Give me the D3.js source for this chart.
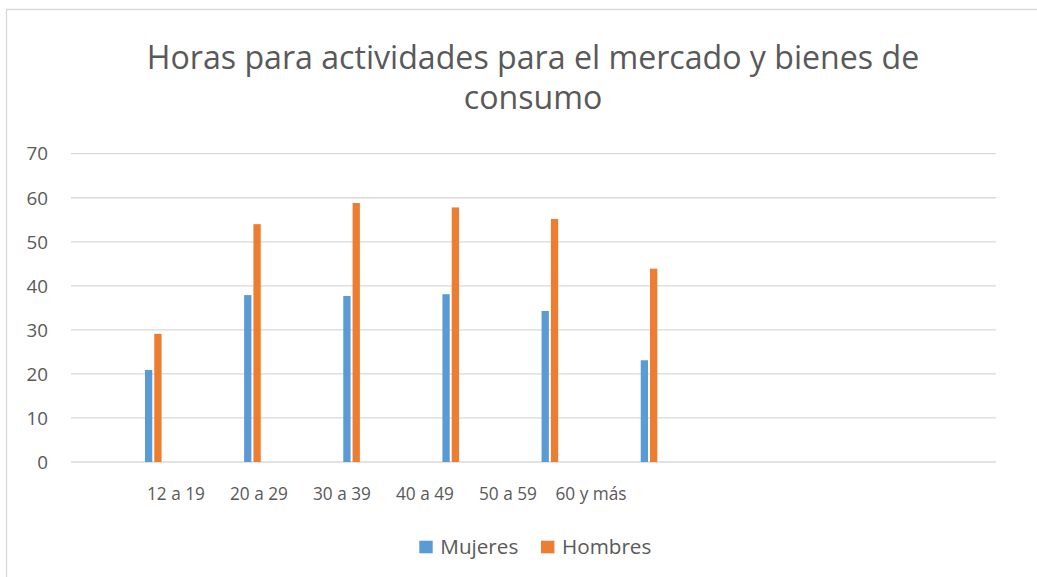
<!DOCTYPE html>
<html>
<head>
<meta charset="utf-8">
<script src="https://cdn.jsdelivr.net/npm/d3@7"></script>
<style>
  html, body { margin: 0; padding: 0; background: #fff; }
  svg { display: block; }
  text { font-family: "Open Sans", Lato, sans-serif; fill: #595959; }
</style>
</head>
<body>
<svg id="chart" width="1037" height="577"></svg>
<script>
const categories = ["12 a 19", "20 a 29", "30 a 39", "40 a 49", "50 a 59", "60 y más"];
const seriesNames = ["Mujeres", "Hombres"];
const mujeres = [20.9, 37.9, 37.7, 38.1, 34.3, 23.1];
const hombres = [29.1, 54.0, 58.8, 57.8, 55.2, 43.9];
const yTicks = [0, 10, 20, 30, 40, 50, 60, 70];
const titleLines = ["Horas para actividades para el mercado y bienes de", "consumo"];

const colors = { "Mujeres": "#5B9BD5", "Hombres": "#ED7D31" };
const values = { "Mujeres": mujeres, "Hombres": hombres };

const svg = d3.select("#chart");

function fitSize(node, target) {
  const el = d3.select(node);
  const fs = parseFloat(el.attr("font-size"));
  const w = node.getComputedTextLength();
  return w > 0 ? fs * target / w : fs;
}

// chart border
svg.append("path")
  .attr("d", "M6.5,577 L6.5,9.5 L1037,9.5")
  .attr("fill", "none").attr("stroke", "#d9d9d9").attr("stroke-width", 1.3);

const plot = { left: 71, right: 996, top: 153.7, bottom: 462 };

const y = d3.scaleLinear().domain([0, 70]).range([plot.bottom, plot.top]);
const x = d3.scaleBand().domain(categories).range([103.7, 698.6]).padding(0);
const xSub = d3.scaleBand().domain(seriesNames).range([0, 16.6]).paddingInner(0.215);
const xLabel = d3.scalePoint().domain(categories).range([176, 591]);

// gridlines
svg.append("g").selectAll("line").data(yTicks).join("line")
  .attr("x1", plot.left).attr("x2", plot.right)
  .attr("y1", d => y(d)).attr("y2", d => y(d))
  .attr("stroke", "#d9d9d9").attr("stroke-width", 1.3);

// y labels
const yl = svg.append("g").selectAll("text").data(yTicks).join("text")
  .attr("x", 48).attr("y", d => y(d)).attr("dy", "0.36em")
  .attr("text-anchor", "end").attr("font-size", 19)
  .text(d => d);
const ySize = fitSize(yl.filter(d => d === 70).node(), 21.5);
yl.attr("font-size", ySize);

// bars
const groups = svg.append("g").selectAll("g").data(seriesNames).join("g")
  .attr("fill", s => colors[s]);
groups.selectAll("rect")
  .data(s => categories.map((c, i) => ({ s, c, v: values[s][i] })))
  .join("rect")
  .attr("x", d => x(d.c) + x.bandwidth() / 2 - 8.3 + xSub(d.s))
  .attr("width", xSub.bandwidth())
  .attr("y", d => y(d.v))
  .attr("height", d => y(0) - y(d.v));

// x labels
const xl = svg.append("g").selectAll("text").data(categories).join("text")
  .attr("x", d => xLabel(d)).attr("y", 500)
  .attr("text-anchor", "middle").attr("font-size", 19)
  .text(d => d);
xl.attr("font-size", fitSize(xl.node(), 58));

// title (single text element, two lines)
const title = svg.append("text")
  .attr("text-anchor", "middle").attr("font-size", 32);
title.selectAll("tspan").data(titleLines).join("tspan")
  .attr("x", 533).attr("y", (d, i) => 69 + i * 40)
  .text(d => d);
const t0 = title.select("tspan").node();
const tw = t0.getComputedTextLength();
title.attr("font-size", 32 * 773 / tw);

// legend
const legendX = { "Mujeres": 419.3, "Hombres": 541 };
const lg = svg.append("g").selectAll("g").data(seriesNames).join("g");
lg.append("rect")
  .attr("x", s => legendX[s]).attr("y", 540.7)
  .attr("width", 13.4).attr("height", 12.6)
  .attr("fill", s => colors[s]);
const lt = lg.append("text")
  .attr("x", s => legendX[s] + 21).attr("y", 554)
  .attr("font-size", 19)
  .text(s => s);
lt.attr("font-size", fitSize(lt.node(), 78));
</script>
</body>
</html>
